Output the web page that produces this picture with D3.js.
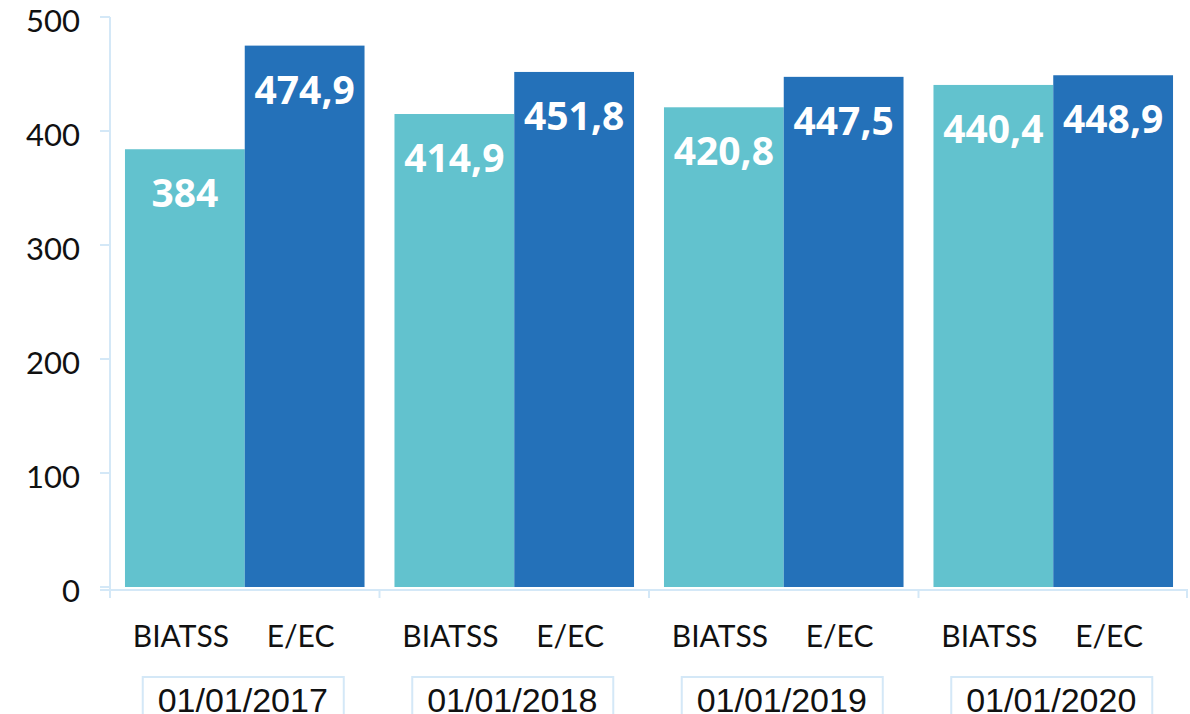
<!DOCTYPE html>
<html>
<head>
<meta charset="utf-8">
<script src="https://cdn.jsdelivr.net/npm/d3@7"></script>
<style>
  body { margin: 0; background: #fff; }
  svg { display: block; }
</style>
</head>
<body>
<svg width="1190" height="714"></svg>
<script>
// data
var dates = ["01/01/2017", "01/01/2018", "01/01/2019", "01/01/2020"];
var groups = ["BIATSS", "E/EC"];
var biatss = [384, 414.9, 420.8, 440.4];
var eec = [474.9, 451.8, 447.5, 448.9];
var yTicks = [0, 100, 200, 300, 400, 500];

var colors = { "BIATSS": "#62c2ce", "E/EC": "#2471b9" };
var axisColor = "#d4e8f7";

var svg = d3.select("svg");
var x0 = 110, x1 = 1188, yTop = 17, yBot = 587;

var x = d3.scaleBand().domain(dates).range([x0, x1]).paddingInner(0).paddingOuter(0);
var xs = d3.scaleBand().domain(groups).range([0, x.bandwidth()]).paddingOuter(0.125).paddingInner(0);
var y = d3.scaleLinear().domain([0, 500]).range([yBot, yTop]);

var rows = dates.map(function(d, i) {
  return { date: d, vals: [ { g: "BIATSS", v: biatss[i] }, { g: "E/EC", v: eec[i] } ] };
});

// y axis
svg.append("line")
  .attr("x1", x0).attr("x2", x0).attr("y1", yTop).attr("y2", yBot + 3)
  .attr("stroke", axisColor).attr("stroke-width", 2);
svg.selectAll(".ytick").data(yTicks).enter().append("line")
  .attr("x1", x0 - 10).attr("x2", x0)
  .attr("y1", function(d){ return y(d); }).attr("y2", function(d){ return y(d); })
  .attr("stroke", axisColor).attr("stroke-width", 2);
svg.selectAll(".ylab").data(yTicks).enter().append("text")
  .attr("x", 80).attr("y", function(d){ return y(d) + 15; })
  .attr("text-anchor", "end")
  .style("font-family", "Lato, 'Noto Sans', sans-serif")
  .style("font-size", "31px").style("fill", "#111")
  .text(function(d){ return d; });

// bars
var g = svg.selectAll(".grp").data(rows).enter().append("g")
  .attr("transform", function(d){ return "translate(" + x(d.date) + ",0)"; });

g.selectAll("rect").data(function(d){ return d.vals; }).enter().append("rect")
  .attr("x", function(d){ return xs(d.g); })
  .attr("width", xs.bandwidth())
  .attr("y", function(d){ return y(d.v); })
  .attr("height", function(d){ return y(0) - y(d.v); })
  .attr("fill", function(d){ return colors[d.g]; });

g.selectAll(".val").data(function(d){ return d.vals; }).enter().append("text")
  .attr("x", function(d){ return xs(d.g) + xs.bandwidth() / 2; })
  .attr("y", function(d){ return y(d.v) + 58; })
  .attr("text-anchor", "middle")
  .style("font-family", "'Noto Sans', Lato, sans-serif")
  .style("font-weight", "bold").style("font-size", "39px").style("fill", "#fff")
  .text(function(d){ return String(d.v).replace(".", ","); });

// x axis
svg.append("line")
  .attr("x1", 100).attr("x2", x1).attr("y1", yBot + 3).attr("y2", yBot + 3)
  .attr("stroke", axisColor).attr("stroke-width", 2);
var bounds = dates.map(function(d){ return x(d); }).concat([x1 - 1]);
svg.selectAll(".xtick").data(bounds).enter().append("line")
  .attr("x1", function(d){ return d; }).attr("x2", function(d){ return d; })
  .attr("y1", yBot + 3).attr("y2", yBot + 11)
  .attr("stroke", axisColor).attr("stroke-width", 2);

g.selectAll(".sub").data(function(d){ return d.vals; }).enter().append("text")
  .attr("x", function(d){ return xs(d.g) + xs.bandwidth() / 2 - 4; })
  .attr("y", 647)
  .attr("text-anchor", "middle")
  .style("font-family", "Lato, 'Noto Sans', sans-serif")
  .style("font-size", "30px").style("fill", "#111")
  .text(function(d){ return d.g; });

// date boxes
g.append("rect")
  .attr("x", x.bandwidth() / 2 - 102).attr("y", 677)
  .attr("width", 201).attr("height", 60)
  .attr("fill", "none").attr("stroke", axisColor).attr("stroke-width", 2);
g.append("text")
  .attr("x", x.bandwidth() / 2 - 2).attr("y", 712)
  .attr("text-anchor", "middle")
  .style("font-family", "'Liberation Sans', Arial, sans-serif")
  .style("font-size", "34px").style("fill", "#111")
  .text(function(d){ return d.date; });
</script>
</body>
</html>
